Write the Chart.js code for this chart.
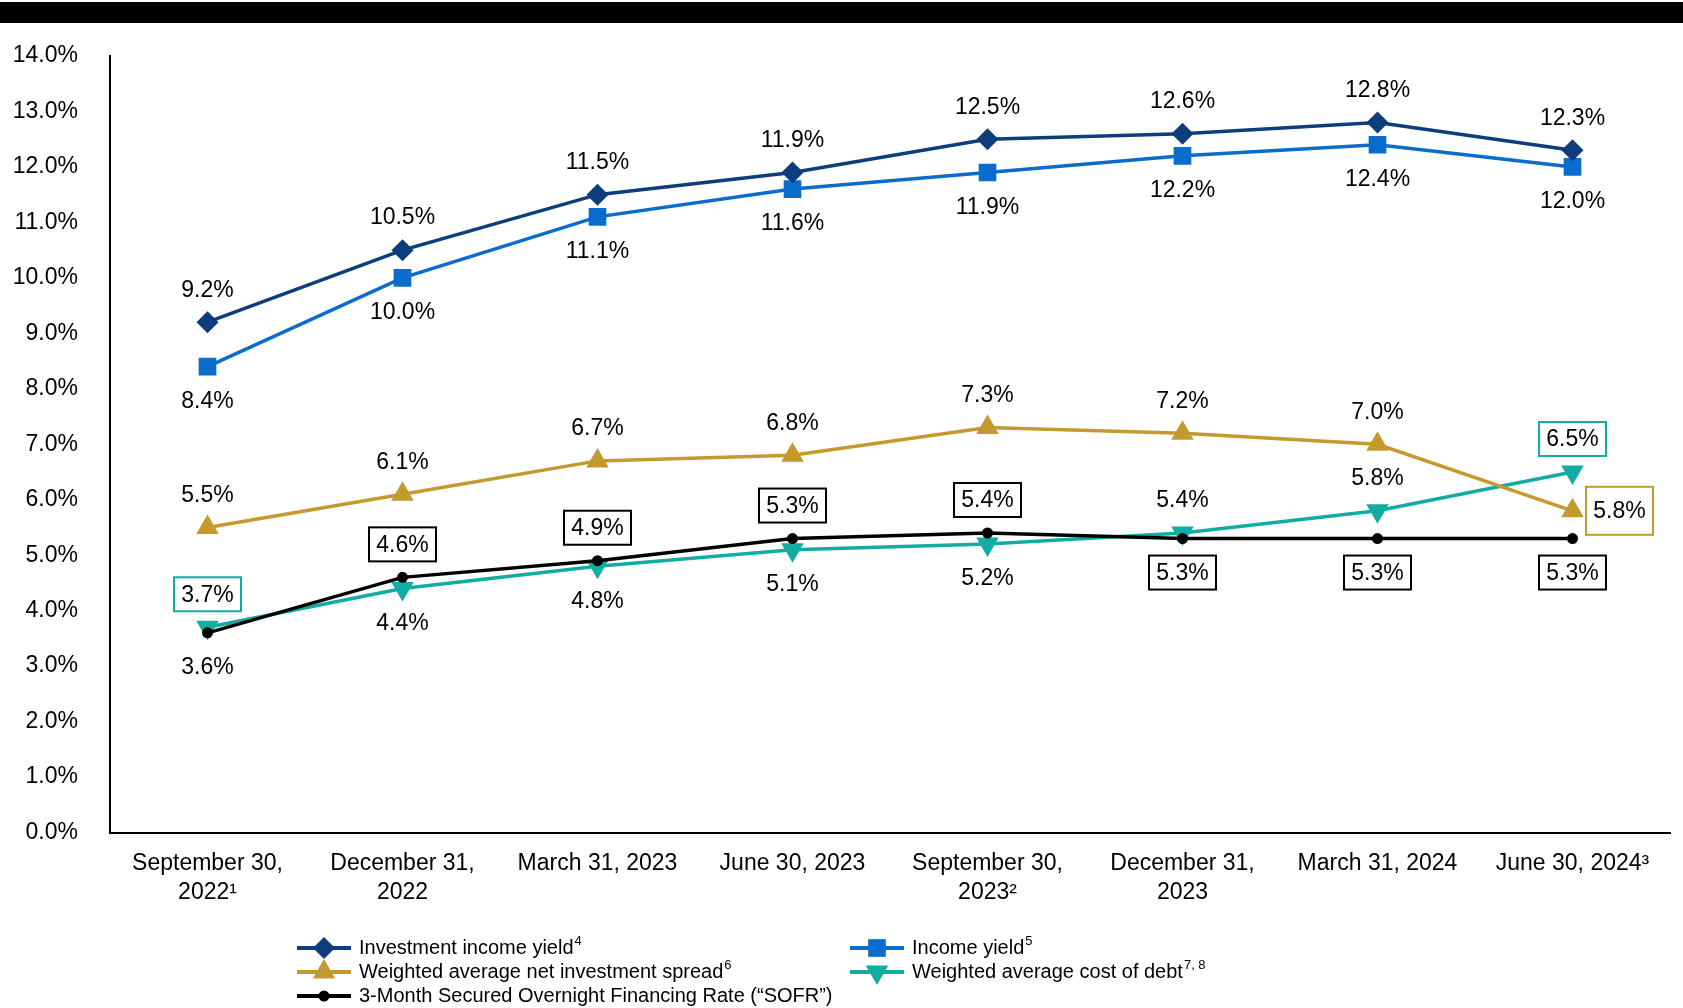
<!DOCTYPE html>
<html>
<head>
<meta charset="utf-8">
<script src="https://cdn.jsdelivr.net/npm/chart.js@4.4.1/dist/chart.umd.min.js"></script>
<style>
  html, body { margin: 0; background: #fff; overflow: hidden; }
  #topbar { position: absolute; left: 0; top: 2px; width: 1683px; height: 21px; background: #000; }
  #mycanvas { position: absolute; left: 0; top: 0; display: block; }
</style>
</head>
<body>
<canvas id="mycanvas" width="1683" height="1008"></canvas>
<div id="topbar"></div>
<script>
var quarters = [
    ['September 30,', '2022\u00B9'],
    ['December 31,', '2022'],
    'March 31, 2023',
    'June 30, 2023',
    ['September 30,', '2023\u00B2'],
    ['December 31,', '2023'],
    'March 31, 2024',
    'June 30, 2024\u00B3'
];
var yTicks = [0, 1, 2, 3, 4, 5, 6, 7, 8, 9, 10, 11, 12, 13, 14];

var investmentIncomeYield = [9.2, 10.5, 11.5, 11.9, 12.5, 12.6, 12.8, 12.3];
var incomeYield = [8.4, 10.0, 11.1, 11.6, 11.9, 12.2, 12.4, 12.0];
var netInvestmentSpread = [5.5, 6.1, 6.7, 6.8, 7.3, 7.2, 7.0, 5.8];
var costOfDebt = [3.7, 4.4, 4.8, 5.1, 5.2, 5.4, 5.8, 6.5];
var sofr = [3.6, 4.6, 4.9, 5.3, 5.4, 5.3, 5.3, 5.3];

var seriesNames = [
    'Investment income yield',
    'Income yield',
    'Weighted average net investment spread',
    'Weighted average cost of debt',
    '3-Month Secured Overnight Financing Rate (\u201CSOFR\u201D)'
];
var seriesNotes = ['4', '5', '6', '7, 8', ''];

// label placement per point (style only)
var labelPlace = [
    ['up', 'up', 'up', 'up', 'up', 'up', 'up', 'up'],
    ['down', 'down', 'down', 'down', 'down', 'down', 'down', 'down'],
    ['up', 'up', 'up', 'up', 'up', 'up', 'up', 'right'],
    ['up', 'down', 'down', 'down', 'down', 'up', 'up', 'up'],
    ['down', 'up', 'up', 'up', 'up', 'down', 'down', 'down']
];
var labelBox = [
    [0, 0, 0, 0, 0, 0, 0, 0],
    [0, 0, 0, 0, 0, 0, 0, 0],
    [0, 0, 0, 0, 0, 0, 0, 1],
    [1, 0, 0, 0, 0, 0, 0, 1],
    [0, 1, 1, 1, 1, 1, 1, 1]
];

var FONT = '"Liberation Sans", Arial, sans-serif';
var navy = '#0d3d7c', blue = '#0a6ccc', gold = '#c49a2f', teal = '#12aca3', black = '#000000';

function noPadding() {
    return { left: 0, top: 0, right: 0, bottom: 0 };
}

var dataLabels = {
    id: 'dataLabels',
    afterDatasetsDraw: function (chart) {
        var ctx = chart.ctx;
        ctx.save();
        ctx.font = '23px ' + FONT;
        ctx.textAlign = 'center';
        ctx.textBaseline = 'middle';
        chart.data.datasets.forEach(function (ds, i) {
            var meta = chart.getDatasetMeta(i);
            meta.data.forEach(function (pt, j) {
                var txt = ds.data[j].toFixed(1) + '%';
                var x = pt.x, y = pt.y;
                var place = labelPlace[i][j];
                if (place === 'up') y -= 33;
                else if (place === 'down') y += 34;
                else x += 47;
                if (labelBox[i][j]) {
                    var w = 67, h = place === 'right' ? 48 : 34;
                    ctx.fillStyle = '#fff';
                    ctx.fillRect(x - w / 2, y - h / 2, w, h);
                    ctx.lineWidth = 2;
                    ctx.strokeStyle = ds.borderColor;
                    ctx.strokeRect(x - w / 2, y - h / 2, w, h);
                }
                ctx.fillStyle = '#000';
                ctx.fillText(txt, x, y + 1);
            });
        });
        ctx.restore();
    }
};

var customLegend = {
    id: 'customLegend',
    afterDraw: function (chart) {
        var ctx = chart.ctx;
        var spots = [[297, 948], [850, 948], [297, 972], [850, 972], [297, 996]];
        ctx.save();
        ctx.textAlign = 'left';
        ctx.textBaseline = 'middle';
        chart.data.datasets.forEach(function (ds, i) {
            var x = spots[i][0], y = spots[i][1];
            ctx.strokeStyle = ds.borderColor;
            ctx.lineWidth = 4;
            ctx.beginPath();
            ctx.moveTo(x, y);
            ctx.lineTo(x + 54, y);
            ctx.stroke();
            ctx.fillStyle = ds.pointBackgroundColor;
            Chart.helpers.drawPoint(ctx, {
                pointStyle: ds.pointStyle,
                rotation: ds.pointRotation || 0,
                radius: ds.pointRadius,
                borderWidth: 0
            }, x + 27, y);
            ctx.fillStyle = '#000';
            ctx.font = '20px ' + FONT;
            ctx.fillText(seriesNames[i], x + 62, y);
            if (seriesNotes[i]) {
                var w = ctx.measureText(seriesNames[i]).width;
                ctx.font = '13px ' + FONT;
                ctx.fillText(seriesNotes[i], x + 63 + w, y - 7);
            }
        });
        ctx.restore();
    }
};

function series(i, values, color, style, radius, rot, order) {
    return {
        label: seriesNames[i],
        data: values,
        borderColor: color,
        backgroundColor: color,
        pointBackgroundColor: color,
        pointBorderColor: color,
        borderWidth: 3.5,
        pointStyle: style,
        pointRadius: radius,
        pointHoverRadius: radius,
        pointBorderWidth: 0,
        pointRotation: rot,
        tension: 0,
        order: order
    };
}

var ctx = document.getElementById('mycanvas');
var lineChart = new Chart(ctx, {
    type: 'line',
    data: {
        labels: quarters,
        datasets: [
            series(0, investmentIncomeYield, navy, 'rectRot', 11, 0, 1),
            series(1, incomeYield, blue, 'rect', 12.5, 0, 2),
            series(2, netInvestmentSpread, gold, 'triangle', 13, 0, 3),
            series(3, costOfDebt, teal, 'triangle', 13, 180, 5),
            series(4, sofr, black, 'circle', 5.5, 0, 4)
        ]
    },
    plugins: [dataLabels, customLegend],
    options: {
        responsive: false,
        animation: false,
        layout: { padding: { top: 56, left: 12, right: 1, bottom: 84 } },
        plugins: {
            legend: { display: false },
            tooltip: { enabled: false }
        },
        scales: {
            x: {
                offset: true,
                afterFit: function (s) {
                    s.paddingLeft = 0;
                    s.paddingRight = 0;
                    s.getPadding = noPadding;
                },
                grid: { display: false, drawTicks: false },
                border: { display: true, color: '#000', width: 2 },
                ticks: {
                    color: '#000',
                    padding: 17,
                    maxRotation: 0,
                    autoSkip: false,
                    font: { family: FONT, size: 23, lineHeight: 1.25 }
                }
            },
            y: {
                min: yTicks[0],
                max: yTicks[yTicks.length - 1],
                afterBuildTicks: function (axis) {
                    axis.ticks = yTicks.map(function (v) { return { value: v }; });
                },
                afterFit: function (s) {
                    s.width = 98;
                    s.getPadding = noPadding;
                },
                grid: { display: false, drawTicks: false },
                border: { display: true, color: '#000', width: 2 },
                ticks: {
                    color: '#000',
                    padding: 32,
                    font: { family: FONT, size: 23 },
                    callback: function (v) { return v.toFixed(1) + '%'; }
                }
            }
        }
    }
});
</script>
</body>
</html>
